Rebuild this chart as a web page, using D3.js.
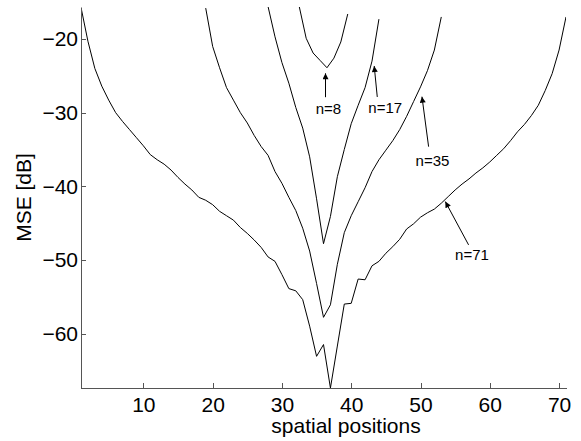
<!DOCTYPE html>
<html lang="en">
<head>
<meta charset="utf-8">
<title>MSE vs spatial positions</title>
<script type="text/javascript" src="https://cdn.jsdelivr.net/npm/d3@7"></script>
<style type="text/css">
	body { margin: 0; background: #fff; }
	.axis path, .axis line { fill: none; stroke: #555; shape-rendering: crispEdges; }
	.axis text { font-family: "Liberation Sans", Arial, sans-serif; font-size: 21px; fill: #000; }
	.curve { fill: none; stroke: #000; stroke-width: 1; }
	.note { font-family: "Liberation Sans", Arial, sans-serif; font-size: 15px; fill: #000; }
</style>
</head>
<body>
<script type="text/javascript">
	// data: MSE in dB per spatial position, one series per window length n
	var pos71 = d3.range(1, 72);
	var mse71 = [-15.7, -20.3, -24.0, -26.4, -28.3, -30.0, -31.2, -32.3, -33.4, -34.5,
		-35.7, -36.4, -37.0, -37.8, -38.8, -39.7, -40.5, -41.5, -41.9, -42.5,
		-43.4, -44.0, -44.6, -45.6, -46.4, -47.3, -48.3, -49.6, -50.2, -52.0,
		-53.9, -54.2, -55.4, -59.0, -63.1, -61.5, -67.4, -61.7, -56.0, -55.9,
		-52.6, -52.7, -50.8, -50.2, -49.1, -48.2, -47.2, -45.8, -45.1, -44.2,
		-43.6, -43.1, -42.3, -41.4, -40.5, -39.7, -39.0, -38.2, -37.5, -36.7,
		-35.8, -34.9, -33.8, -32.6, -31.6, -30.4, -29.0, -27.0, -24.7, -21.5, -17.0];

	var pos35 = d3.range(19, 54);
	var mse35 = [-15.8, -21.0, -23.9, -26.6, -28.3, -30.0, -31.4, -33.1, -34.6, -35.8,
		-38.0, -39.6, -41.5, -43.3, -45.7, -48.8, -53.2, -57.8, -56.1, -50.6,
		-46.3, -44.0, -42.1, -40.2, -38.0, -36.4, -35.1, -33.8, -32.3, -30.5,
		-28.5, -26.5, -24.3, -21.5, -17.0];

	var pos17 = d3.range(28, 45);
	var mse17 = [-15.6, -19.7, -23.2, -26.0, -29.3, -32.1, -36.0, -41.7, -47.8, -44.1,
		-38.7, -35.0, -31.5, -29.0, -26.6, -23.0, -17.3];

	var pos8 = [32.5, 33.5, 34.5, 35.5, 36.5, 37.5, 38.5, 39.5];
	var mse8 = [-15.6, -19.9, -21.9, -22.9, -23.9, -22.6, -20.4, -16.6];

	var seriesNames = ["n=8", "n=17", "n=35", "n=71"];
	var xTicks = [10, 20, 30, 40, 50, 60, 70];
	var yTicks = [-60, -50, -40, -30, -20];
	var xLimits = [1, 71];
	var yLimits = [-67.4, -15.65];

	// arrow annotations in data units: [tipX, tipY, tailX, tailY, textX, textY]
	var notes = [
		[36.29, -24.66, 36.29, -27.9, 36.72, -30.25],
		[43.32, -23.66, 43.76, -27.87, 44.91, -30.04],
		[50.21, -27.83, 51.17, -34.62, 51.73, -37.24],
		[53.58, -42.08, 56.94, -47.96, 57.43, -49.99]
	];

	var w = 581, h = 441;
	var plotLeft = 81, plotRight = 566, plotTop = 7, plotBottom = 388;

	var xScale = d3.scaleLinear().domain(xLimits).range([plotLeft, plotRight]);
	var yScale = d3.scaleLinear().domain(yLimits).range([plotBottom, plotTop]);

	var svg = d3.select("body").append("svg").attr("width", w).attr("height", h);

	svg.append("clipPath").attr("id", "plotclip")
		.append("rect").attr("x", plotLeft).attr("y", plotTop)
		.attr("width", plotRight - plotLeft).attr("height", plotBottom - plotTop);

	var series = [
		{ x: pos8, y: mse8 },
		{ x: pos17, y: mse17 },
		{ x: pos35, y: mse35 },
		{ x: pos71, y: mse71 }
	];

	var line = d3.line()
		.x(function(d) { return xScale(d[0]); })
		.y(function(d) { return yScale(d[1]); });

	svg.append("g").attr("clip-path", "url(#plotclip)")
		.selectAll("path")
		.data(series)
		.enter()
		.append("path")
		.attr("class", "curve")
		.attr("d", function(s) {
			return line(s.x.map(function(v, i) { return [v, s.y[i]]; }));
		});

	// axes, MATLAB style: ticks pointing inward, no box
	var xAxis = d3.axisBottom(xScale).tickValues(xTicks).tickSize(-5).tickPadding(9).tickSizeOuter(0);
	var yAxis = d3.axisLeft(yScale).tickValues(yTicks).tickSize(-5).tickPadding(3).tickSizeOuter(0)
		.tickFormat(function(d) { return "\u2212" + Math.abs(d); });

	svg.append("g").attr("class", "axis").attr("transform", "translate(0," + plotBottom + ")").call(xAxis);
	svg.append("g").attr("class", "axis").attr("transform", "translate(" + plotLeft + ",0)").call(yAxis);

	svg.append("text")
		.attr("x", 346).attr("y", 433)
		.attr("text-anchor", "middle")
		.style("font-family", "'Liberation Sans', Arial, sans-serif")
		.style("font-size", "21px")
		.text("spatial positions");

	svg.append("text")
		.attr("transform", "translate(31," + ((plotTop + plotBottom) / 2) + ") rotate(-90)")
		.attr("text-anchor", "middle")
		.style("font-family", "'Liberation Sans', Arial, sans-serif")
		.style("font-size", "21px")
		.text("MSE [dB]");

	// arrows with labels
	svg.append("defs").append("marker")
		.attr("id", "head")
		.attr("viewBox", "0 0 10 10")
		.attr("refX", 10).attr("refY", 5)
		.attr("markerUnits", "userSpaceOnUse")
		.attr("markerWidth", 7).attr("markerHeight", 6)
		.attr("orient", "auto")
		.append("path").attr("d", "M0,0L10,5L0,10z").attr("fill", "#000");

	var g = svg.selectAll(".note-g")
		.data(notes)
		.enter()
		.append("g");

	g.append("line")
		.attr("x1", function(d) { return xScale(d[2]); })
		.attr("y1", function(d) { return yScale(d[3]); })
		.attr("x2", function(d) { return xScale(d[0]); })
		.attr("y2", function(d) { return yScale(d[1]); })
		.attr("stroke", "#000").attr("stroke-width", 1)
		.attr("marker-end", "url(#head)");

	g.append("text")
		.attr("class", "note")
		.attr("x", function(d) { return xScale(d[4]); })
		.attr("y", function(d) { return yScale(d[5]); })
		.attr("text-anchor", "middle")
		.text(function(d, i) { return seriesNames[i]; });
</script>
</body>
</html>
